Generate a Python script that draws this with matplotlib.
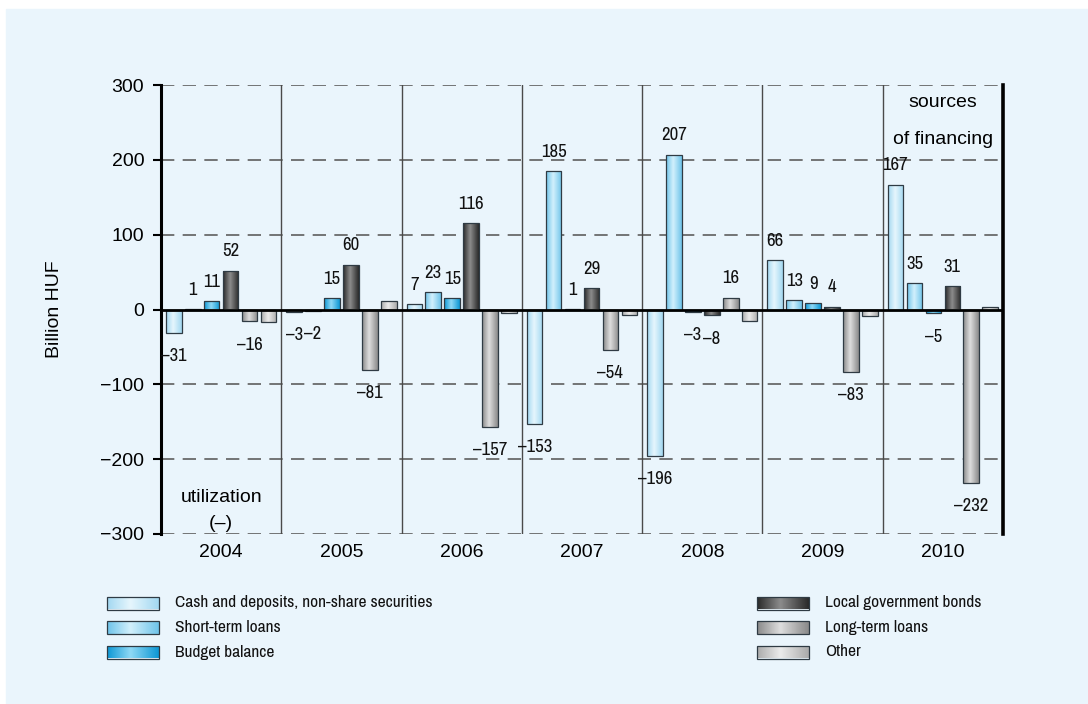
import numpy as np
import matplotlib
matplotlib.use("Agg")
import matplotlib.pyplot as plt
from matplotlib.colors import LinearSegmentedColormap
from matplotlib.patches import Rectangle

years = ["2004", "2005", "2006", "2007", "2008", "2009", "2010"]
series_names = [
    "Cash and deposits, non-share securities",
    "Short-term loans",
    "Budget balance",
    "Local government bonds",
    "Long-term loans",
    "Other",
]
cash = [-31, -3, 7, -153, -196, 66, 167]
short_loans = [1, -2, 23, 185, 207, 13, 35]
budget = [11, 15, 15, 1, -3, 9, -5]
lg_bonds = [52, 60, 116, 29, -8, 4, 31]
long_loans = [-16, -81, -157, -54, 16, -83, -232]
other = [-17, 11, -5, -8, -15, -9, 4]
series = [cash, short_loans, budget, lg_bonds, long_loans, other]
labelled = [True, True, True, True, True, False]

# (edge colour, centre highlight) for the cylinder-like fills
shades = [
    ("#a3d8f1", "#e6f6fd"),
    ("#6fc4ea", "#d2f0fc"),
    ("#0e98d5", "#8fd9f6"),
    ("#2a2a2a", "#8c8c8c"),
    ("#8a8a8a", "#dedede"),
    ("#ababab", "#ececec"),
]
BG = "#eaf5fc"
NARROW = ["Archivo Narrow", "DejaVu Sans"]
plt.rcParams["font.family"] = ["Liberation Sans", "DejaVu Sans"]


def gradient_fill(ax, patch, edge, center):
    cmap = LinearSegmentedColormap.from_list("g", [(0, edge), (0.45, center), (1, edge)])
    x0, y0 = patch.get_x(), patch.get_y()
    w, h = patch.get_width(), patch.get_height()
    im = ax.imshow(
        np.linspace(0, 1, 64)[None, :],
        cmap=cmap,
        extent=[x0, x0 + w, y0, y0 + h],
        aspect="auto",
        interpolation="bilinear",
        zorder=2,
    )
    im.set_clip_path(patch)


fig = plt.figure(figsize=(10.88, 7.04), dpi=100)
fig.patches.append(
    Rectangle((6 / 1088, 0), 1, 1 - 9 / 704, transform=fig.transFigure, color=BG, zorder=-10)
)

ax = fig.add_axes([161 / 1088, 1 - 534 / 704, 842 / 1088, 449 / 704])
ax.set_facecolor("none")

x = np.arange(len(years))
step, width = 0.1575, 0.13
for k, (vals, (edge, center)) in enumerate(zip(series, shades)):
    xs = x + (k - 2.5) * step
    bars = ax.bar(xs, vals, width, facecolor="none", edgecolor="#2f3b44", lw=0.9, zorder=3)
    for b in bars:
        gradient_fill(ax, b, edge, center)
    if labelled[k]:
        for xi, v in zip(xs, vals):
            txt = str(v).replace("-", "\u2013")
            off = (0, 8) if v > 0 else (0, -11)
            ax.annotate(txt, (xi, v), xytext=off, textcoords="offset points",
                        ha="center", va="bottom" if v > 0 else "top",
                        fontsize=13.5, family=NARROW, color="#111111")

for yv in [-300, -200, -100, 100, 200, 300]:
    ax.axhline(yv, color="#5e5e5e", lw=1.2, ls=(0, (8, 5)), zorder=1)
for xv in x[:-1] + 0.5:
    ax.axvline(xv, color="#4a4a4a", lw=1.0, zorder=1)
ax.axhline(0, color="black", lw=2, zorder=4)

ax.set_xlim(-0.5, len(years) - 0.5)
ax.set_ylim(-300, 300)
ax.set_yticks(np.arange(-300, 301, 100))
ax.set_xticks(x)
ax.set_xticklabels(years)
ax.tick_params(axis="x", length=0, pad=7, labelsize=14)
ax.tick_params(axis="y", length=6, width=1.5, direction="out", pad=6, labelsize=14)
for s in ["top", "bottom"]:
    ax.spines[s].set_visible(False)
ax.spines["left"].set_linewidth(2.2)
ax.spines["right"].set_linewidth(2.6)
ax.set_ylabel("Billion HUF", fontsize=14)
ax.yaxis.set_label_coords(-0.116, 0.5)

ax.text(6, 277, "sources", ha="center", va="center", fontsize=14)
ax.text(6, 227, "of financing", ha="center", va="center", fontsize=14)
ax.text(0, -251, "utilization", ha="center", va="center", fontsize=14)
ax.text(0, -286, "(\u2013)", ha="center", va="center", fontsize=14)

# legend drawn in pixel space so the swatches can carry the same gradients
lg = fig.add_axes([0, 0, 1, 1])
lg.set_xlim(0, 1088)
lg.set_ylim(704, 0)
lg.axis("off")
for k, (name, (edge, center)) in enumerate(zip(series_names, shades)):
    col, row = divmod(k, 3)
    px = 107 if col == 0 else 757
    py = 603 + row * 24.5
    r = Rectangle((px, py - 6.5), 52, 13, facecolor="none", edgecolor="#2f3b44", lw=0.9, zorder=3)
    lg.add_patch(r)
    gradient_fill(lg, r, edge, center)
    lg.text(px + 68, py, name, va="center", ha="left", fontsize=12.5, family=NARROW, color="#111111")
lg.set_xlim(0, 1088)
lg.set_ylim(704, 0)

fig.savefig("out.png", dpi=100)
